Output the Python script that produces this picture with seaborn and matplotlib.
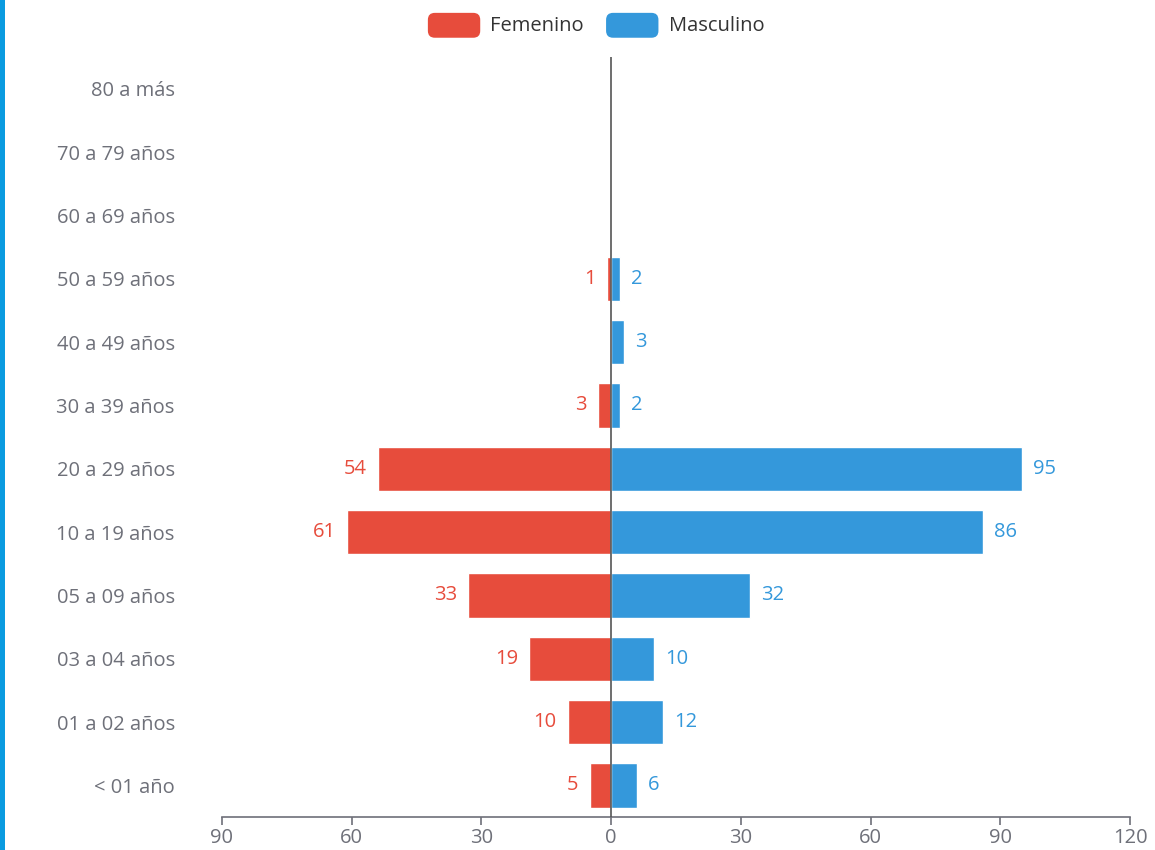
import numpy as np
import pandas as pd
import seaborn as sns
import matplotlib.pyplot as plt
from matplotlib.patches import Rectangle, FancyBboxPatch, Patch
from matplotlib.legend_handler import HandlerPatch
from matplotlib.ticker import FuncFormatter

grupos = ["80 a más", "70 a 79 años", "60 a 69 años", "50 a 59 años", "40 a 49 años",
          "30 a 39 años", "20 a 29 años", "10 a 19 años", "05 a 09 años", "03 a 04 años",
          "01 a 02 años", "< 01 año"]
femenino = [0, 0, 0, 1, 0, 3, 54, 61, 33, 19, 10, 5]
masculino = [0, 0, 0, 2, 3, 2, 95, 86, 32, 10, 12, 6]
x_ticks = [-90, -60, -30, 0, 30, 60, 90, 120]

ROJO = "#e74c3c"
AZUL = "#3498db"
GRIS = "#6e7079"
FS = 14.5

sns.set_style("white")
plt.rcParams["font.family"] = ["Open Sans", "DejaVu Sans"]

df = pd.DataFrame({
    "grupo": grupos * 2,
    "sexo": ["Femenino"] * len(grupos) + ["Masculino"] * len(grupos),
    "valor": [-v for v in femenino] + masculino,
})

fig = plt.figure(figsize=(11.55, 8.5), dpi=100)
ax = fig.add_axes([222 / 1155, 1 - 817 / 850, (1130 - 222) / 1155, (817 - 57) / 850])

sns.barplot(data=df, y="grupo", x="valor", hue="sexo", order=grupos,
            hue_order=["Femenino", "Masculino"], palette=[ROJO, AZUL],
            dodge=False, width=0.7, orient="h", saturation=1, ax=ax, legend=False)

ax.set_xlim(-90, 120)
ax.set_ylim(11.5, -0.5)
ax.set_xticks(x_ticks)
ax.xaxis.set_major_formatter(FuncFormatter(lambda v, p: f"{abs(int(v))}"))
ax.set_xlabel("")
ax.set_ylabel("")

for s in ["left", "right", "top"]:
    ax.spines[s].set_visible(False)
ax.spines["bottom"].set_color(GRIS)
ax.spines["bottom"].set_linewidth(1.2)
ax.tick_params(axis="x", bottom=True, colors=GRIS, labelsize=FS, length=6, width=1.2,
               direction="out", pad=2)
ax.tick_params(axis="y", left=False, colors=GRIS, labelsize=FS, length=0, pad=34)

ax.axvline(0, color="#555555", lw=1.2, zorder=5)

# etiquetas de valores
for i, (f, m) in enumerate(zip(femenino, masculino)):
    if f:
        ax.annotate(str(f), xy=(-f, i), xytext=(-8, 0), textcoords="offset points",
                    ha="right", va="center", color=ROJO, fontsize=FS)
    if m:
        ax.annotate(str(m), xy=(m, i), xytext=(8, 0), textcoords="offset points",
                    ha="left", va="center", color=AZUL, fontsize=FS)


class HandlerRound(HandlerPatch):
    def create_artists(self, legend, orig_handle, xdescent, ydescent, width, height, fontsize, trans):
        p = FancyBboxPatch((-xdescent, -ydescent - 3), width, height + 4,
                           boxstyle="round,pad=0,rounding_size=5",
                           facecolor=orig_handle.get_facecolor(), edgecolor="none",
                           transform=trans)
        return [p]


handles = [Patch(facecolor=ROJO, label="Femenino"), Patch(facecolor=AZUL, label="Masculino")]
fig.legend(handles=handles, loc="center", bbox_to_anchor=(596 / 1155, 1 - 25 / 850),
           ncol=2, frameon=False, fontsize=FS, handlelength=2.6, handleheight=1.1,
           columnspacing=1.1, handletextpad=0.5, labelcolor="#333333",
           handler_map={Patch: HandlerRound()})

# franja azul a la izquierda
fig.patches.append(Rectangle((0, 0), 5 / 1155, 1, transform=fig.transFigure,
                             facecolor="#0a9be0", edgecolor="none"))

fig.savefig("out.png", dpi=100)
